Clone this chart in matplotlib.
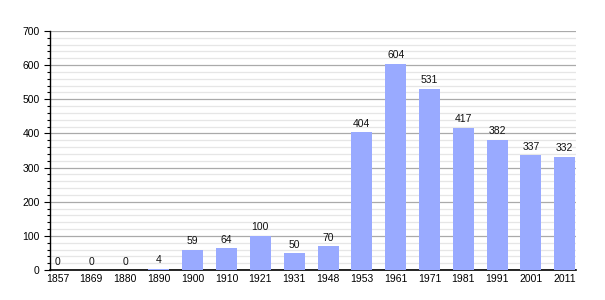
import numpy as np
import matplotlib
matplotlib.use("Agg")
from matplotlib import pyplot as plt
from matplotlib.ticker import MultipleLocator

plt.rcParams['font.family'] = ['Liberation Sans', 'DejaVu Sans']

years = ['1857', '1869', '1880', '1890', '1900', '1910', '1921', '1931',
         '1948', '1953', '1961', '1971', '1981', '1991', '2001', '2011']
population = [0, 0, 0, 4, 59, 64, 100, 50, 70, 404, 604, 531, 417, 382, 337, 332]

fig = plt.figure(figsize=(6.05, 3.0), dpi=100)
ax = fig.add_axes([0.0826, 0.1, 0.8694, 0.7967])

x = np.arange(len(years))
ax.bar(x, population, width=0.62, color='#99aaff', zorder=3)

# value labels above each bar
for xi, v in zip(x, population):
    ax.text(xi, v + 10, str(v), ha='center', va='bottom', fontsize=7.5, color='#111111', zorder=4)

ax.set_xlim(-0.22, 15.33)
ax.set_ylim(0, 700)
ax.set_xticks(x)
ax.set_xticklabels(years, fontsize=7.5)
ax.yaxis.set_major_locator(MultipleLocator(100))
ax.yaxis.set_minor_locator(MultipleLocator(20))
ax.tick_params(axis='y', which='major', labelsize=7.5, length=4, width=0.8)
ax.tick_params(axis='y', which='minor', length=2, width=0.8)
ax.tick_params(axis='x', length=0, pad=3)

ax.grid(axis='y', which='major', color='#aaaaaa', linewidth=0.9, zorder=0)
ax.grid(axis='y', which='minor', color='#e6e6e6', linewidth=0.9, zorder=0)

for side in ['top', 'right']:
    ax.spines[side].set_visible(False)
ax.spines['left'].set_linewidth(1.0)
ax.spines['bottom'].set_linewidth(1.2)

fig.savefig('out.png', dpi=100)
